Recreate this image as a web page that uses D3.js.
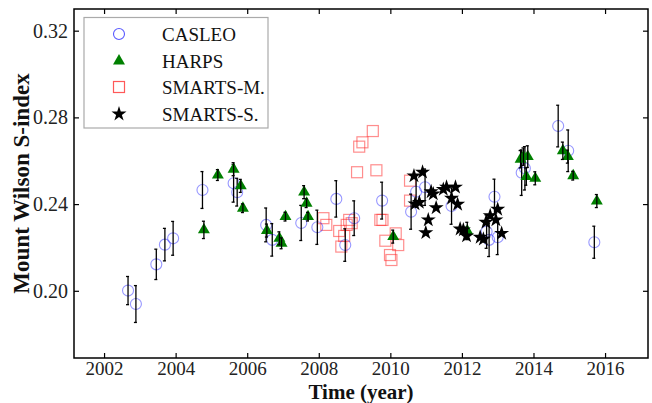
<!DOCTYPE html>
<html>
<head>
<meta charset="utf-8">
<script src="https://cdn.jsdelivr.net/npm/d3@7"></script>
<style>
  html, body { margin: 0; padding: 0; background: #fff; }
  svg { display: block; }
  text { font-family: "Liberation Serif", "DejaVu Serif", serif; }
</style>
</head>
<body>
<svg id="chart" width="652" height="403"></svg>
<script>
// ---------- data ----------
const xTicks = [2002, 2004, 2006, 2008, 2010, 2012, 2014, 2016];
const yTicks = [0.20, 0.24, 0.28, 0.32];
const legendLabels = ["CASLEO", "HARPS", "SMARTS-M.", "SMARTS-S."];

// CASLEO: year, S-index, error
const casleoYear = [2002.67, 2002.89, 2003.46, 2003.70, 2003.93, 2004.75, 2005.62, 2005.72, 2006.53, 2006.70,
  2007.51, 2007.96, 2008.49, 2008.74, 2008.99, 2009.77, 2010.58, 2010.72, 2010.97, 2011.71,
  2012.69, 2012.76, 2012.91, 2013.00, 2013.67, 2013.76, 2014.69, 2014.97, 2015.70];
const casleoS = [0.2001, 0.1939, 0.2122, 0.2213, 0.2242, 0.2465, 0.2496, 0.2455, 0.2304, 0.2235,
  0.2313, 0.2293, 0.2424, 0.2211, 0.2335, 0.2416, 0.2365, 0.2457, 0.2478, 0.2391,
  0.2273, 0.2235, 0.2434, 0.2247, 0.2545, 0.2565, 0.2760, 0.2646, 0.2224];
const casleoErr = [0.0065, 0.0085, 0.0070, 0.0075, 0.0078, 0.0085, 0.0087, 0.0064, 0.0078, 0.0075,
  0.0081, 0.0079, 0.0084, 0.0075, 0.0080, 0.0085, 0.0081, 0.0070, 0.0084, 0.0084,
  0.0077, 0.0077, 0.0081, 0.0080, 0.0105, 0.0100, 0.0096, 0.0096, 0.0074];

// HARPS: year, S-index, error
const harpsYear = [2004.79, 2005.18, 2005.62, 2005.82, 2005.88, 2006.55, 2006.90, 2006.96, 2007.07,
  2007.59, 2007.66, 2007.70, 2010.08, 2012.15, 2013.64, 2013.72, 2013.84, 2013.80, 2014.05,
  2014.82, 2014.96, 2015.11, 2015.77];
const harpsS = [0.2281, 0.2534, 0.2561, 0.2484, 0.2381, 0.2278, 0.2242, 0.2219, 0.2342,
  0.2455, 0.2404, 0.2342, 0.2250, 0.2276, 0.2607, 0.2619, 0.2619, 0.2527, 0.2519,
  0.2646, 0.2619, 0.2531, 0.2414];
const harpsErr = [0.004, 0.0025, 0.003, 0.003, 0.002, 0.003, 0.003, 0.0025, 0.002,
  0.003, 0.002, 0.002, 0.003, 0.004, 0.004, 0.004, 0.005, 0.004, 0.003,
  0.004, 0.003, 0.002, 0.003];

// SMARTS-M.: year, S-index
const smartsMYear = [2008.13, 2008.21, 2008.57, 2008.63, 2008.71, 2008.78, 2008.85, 2008.92, 2009.07,
  2009.13, 2009.22, 2009.51, 2009.61, 2009.72, 2009.78, 2009.86, 2009.99, 2010.03, 2010.15,
  2010.22, 2010.55, 2010.55];
const smartsMS = [0.2335, 0.2304, 0.2276, 0.2204, 0.2253, 0.2304, 0.2327, 0.2312, 0.2547,
  0.2665, 0.2685, 0.2737, 0.2556, 0.2327, 0.2327, 0.2231, 0.2165, 0.2142, 0.2265,
  0.2211, 0.2508, 0.2416];

// SMARTS-S.: year, S-index
const smartsSYear = [2010.66, 2010.90, 2010.81, 2010.69, 2011.14, 2011.20, 2011.28, 2011.06, 2010.99,
  2011.48, 2011.57, 2011.82, 2011.71, 2011.88, 2011.95, 2012.04, 2012.13, 2012.51, 2012.60,
  2012.67, 2012.79, 2012.95, 2013.00, 2013.11];
const smartsSS = [0.2530, 0.2547, 0.2408, 0.2401, 0.2457, 0.2447, 0.2383, 0.2327, 0.2268,
  0.2468, 0.2478, 0.2478, 0.2427, 0.2399, 0.2285, 0.2281, 0.2253, 0.2247, 0.2238,
  0.2316, 0.2347, 0.2327, 0.2376, 0.2265];

// ---------- layout ----------
const svg = d3.select("#chart");
const L = 74, R = 648, T = 9, B = 358;
const x = d3.scaleLinear().domain([2001.16, 2017.2]).range([L, R]);
const y = d3.scaleLinear().domain([0.169, 0.33]).range([B, T]);

const casleo = casleoYear.map((t, i) => ({t, s: casleoS[i], e: casleoErr[i]}));
const harps = harpsYear.map((t, i) => ({t, s: harpsS[i], e: harpsErr[i]}));
const smM = smartsMYear.map((t, i) => ({t, s: smartsMS[i]}));
const smS = smartsSYear.map((t, i) => ({t, s: smartsSS[i]}));

const plot = svg.append("g");

function errorBars(data) {
  const g = plot.append("g").attr("stroke", "#000").attr("stroke-width", 1.3).attr("fill", "none");
  data.forEach(d => {
    const x0 = x(d.t), y1 = y(d.s + d.e), y2 = y(d.s - d.e);
    g.append("line").attr("x1", x0).attr("x2", x0).attr("y1", y1).attr("y2", y2);
    g.append("line").attr("x1", x0 - 2).attr("x2", x0 + 1).attr("y1", y1).attr("y2", y1);
    g.append("line").attr("x1", x0 - 2).attr("x2", x0 + 1).attr("y1", y2).attr("y2", y2);
  });
}

// SMARTS-M squares
plot.append("g").selectAll("rect").data(smM).join("rect")
  .attr("x", d => x(d.t) - 5.5).attr("y", d => y(d.s) - 5.5)
  .attr("width", 11).attr("height", 11)
  .attr("fill", "none").attr("stroke", "#ff3030").attr("stroke-opacity", 0.55).attr("stroke-width", 1.2);

// CASLEO circles
plot.append("g").selectAll("circle").data(casleo).join("circle")
  .attr("cx", d => x(d.t)).attr("cy", d => y(d.s)).attr("r", 5.5)
  .attr("fill", "none").attr("stroke", "#3030ff").attr("stroke-opacity", 0.5).attr("stroke-width", 1.1);
errorBars(casleo);

// HARPS triangles
const tri = d3.symbol().type(d3.symbolTriangle).size(62);
plot.append("g").selectAll("path").data(harps).join("path")
  .attr("d", tri).attr("transform", d => `translate(${x(d.t)},${y(d.s)})`)
  .attr("fill", "#008000");
errorBars(harps);

// SMARTS-S stars
const star = d3.symbol().type(d3.symbolStar).size(70);
plot.append("g").selectAll("path").data(smS).join("path")
  .attr("d", star).attr("transform", d => `translate(${x(d.t)},${y(d.s)})`)
  .attr("fill", "#000");

// ---------- axes ----------
const tickFont = (g, size) => g.selectAll("text")
  .attr("font-family", '"Liberation Serif", serif').attr("font-size", size).attr("fill", "#222");

const xb = svg.append("g").attr("transform", `translate(0,${B})`)
  .call(d3.axisBottom(x).tickValues(xTicks).tickFormat(d3.format("d")).tickSize(-5).tickPadding(3));
tickFont(xb, 19);
const xt = svg.append("g").attr("transform", `translate(0,${T})`)
  .call(d3.axisTop(x).tickValues(xTicks).tickFormat("").tickSize(-5));
const yl = svg.append("g").attr("transform", `translate(${L},0)`)
  .call(d3.axisLeft(y).tickValues(yTicks).tickFormat(d3.format(".2f")).tickSize(-5).tickPadding(6));
tickFont(yl, 20);
const yr = svg.append("g").attr("transform", `translate(${R},0)`)
  .call(d3.axisRight(y).tickValues(yTicks).tickFormat("").tickSize(-5));
[xb, xt, yl, yr].forEach(g => {
  g.select(".domain").remove();
  g.selectAll(".tick line").attr("stroke", "#000").attr("stroke-width", 1.2);
});

svg.append("rect").attr("x", L).attr("y", T).attr("width", R - L).attr("height", B - T)
  .attr("fill", "none").attr("stroke", "#000").attr("stroke-width", 1.5);

// axis titles
svg.append("text").attr("x", (L + R) / 2).attr("y", 399).attr("text-anchor", "middle")
  .attr("font-size", 21).attr("font-weight", "bold").attr("fill", "#111").text("Time (year)");
svg.append("text").attr("transform", `translate(29,${(T + B) / 2}) rotate(-90)`)
  .attr("text-anchor", "middle").attr("font-size", 23).attr("font-weight", "bold").attr("fill", "#111")
  .text("Mount Wilson S-index");

// ---------- legend ----------
const lg = svg.append("g");
lg.append("rect").attr("x", 84).attr("y", 17.5).attr("width", 184).attr("height", 110.5)
  .attr("fill", "#fff").attr("stroke", "#aaa").attr("stroke-width", 1.2);
const rowsY = [34, 61, 87, 114];
const mx = 119;
lg.append("circle").attr("cx", mx).attr("cy", rowsY[0]).attr("r", 5.5)
  .attr("fill", "none").attr("stroke", "#3030ff").attr("stroke-opacity", 0.8).attr("stroke-width", 1.1);
lg.append("path").attr("d", tri).attr("transform", `translate(${mx},${rowsY[1]})`).attr("fill", "#008000");
lg.append("rect").attr("x", mx - 5.5).attr("y", rowsY[2] - 5.5).attr("width", 11).attr("height", 11)
  .attr("fill", "none").attr("stroke", "#ff3030").attr("stroke-opacity", 0.8).attr("stroke-width", 1.2);
lg.append("path").attr("d", star).attr("transform", `translate(${mx},${rowsY[3]})`).attr("fill", "#000");
legendLabels.forEach((t, i) => {
  lg.append("text").attr("x", 162).attr("y", rowsY[i]).attr("dy", "0.35em")
    .attr("font-size", 19).attr("fill", "#111").text(t);
});
</script>
</body>
</html>
